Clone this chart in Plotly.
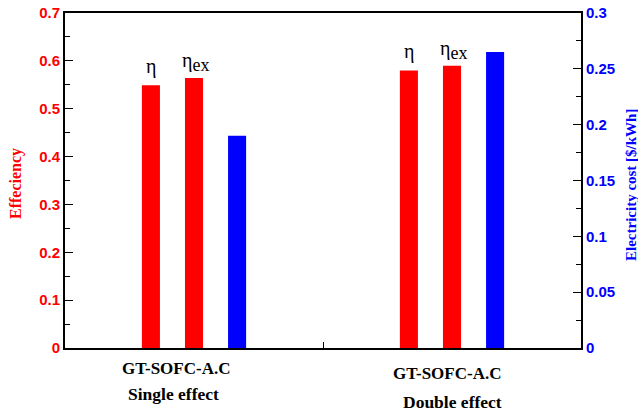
import plotly.graph_objects as go

groups = ["Single effect", "Double effect"]
group_x = [0.5, 1.5]
eta = [0.549, 0.58]
eta_ex = [0.564, 0.59]
cost = [0.19, 0.265]
y_ticks = [0, 0.1, 0.2, 0.3, 0.4, 0.5, 0.6, 0.7]
y_ticklabels = ["0", "0.1", "0.2", "0.3", "0.4", "0.5", "0.6", "0.7"]
y2_ticks = [0, 0.05, 0.1, 0.15, 0.2, 0.25, 0.3]
y2_ticklabels = ["0", "0.05", "0.1", "0.15", "0.2", "0.25", "0.3"]

RED = "#ff0000"
BLUE = "#0000ff"
bw = 0.07
step = 0.167

fig = go.Figure()
fig.add_trace(go.Bar(x=group_x, y=eta, width=bw, offset=-step - bw / 2,
                     marker=dict(color=RED, line=dict(width=0)), name="η"))
fig.add_trace(go.Bar(x=group_x, y=eta_ex, width=bw, offset=-bw / 2,
                     marker=dict(color=RED, line=dict(width=0)), name="ηex"))
fig.add_trace(go.Bar(x=group_x, y=cost, width=bw, offset=step - bw / 2,
                     marker=dict(color=BLUE, line=dict(width=0)), name="cost", yaxis="y2"))

serif = "Liberation Serif"
ann = []
for gx, e, ex in zip(group_x, eta, eta_ex):
    ann.append(dict(x=gx - step, y=e, xref="x", yref="y", text="η", showarrow=False,
                    xanchor="center", yanchor="bottom", yshift=5,
                    font=dict(family=serif, size=20, color="black")))
    ann.append(dict(x=gx + 0.005, y=ex, xref="x", yref="y",
                    text="η<sub><span style=\"font-size:18px\">ex</span></sub>", showarrow=False,
                    xanchor="center", yanchor="bottom", yshift=1,
                    font=dict(family=serif, size=20, color="black")))

# category labels (pixel positions of text centres)
lab_pos = [(0.43, 368, 0.42, 394), (1.48, 373, 1.5, 402)]
for g, (x1, y1, x2, y2) in zip(groups, lab_pos):
    ann.append(dict(x=x1, y=(414 - y1 - 66) / 335, xref="x", yref="paper", text="<b>GT-SOFC-A.C</b>",
                    showarrow=False, xanchor="center", yanchor="middle",
                    font=dict(family=serif, size=17, color="black")))
    ann.append(dict(x=x2, y=(414 - y2 - 66) / 335, xref="x", yref="paper", text="<b>%s</b>" % g,
                    showarrow=False, xanchor="center", yanchor="middle",
                    font=dict(family=serif, size=17.5, color="black")))

# axis titles
ann.append(dict(x=16, y=184, xref="paper", yref="paper", text="<b>Effeciency</b>", textangle=-90,
                showarrow=False, xanchor="center", yanchor="middle",
                font=dict(family=serif, size=16, color=RED)))
ann.append(dict(x=631, y=185, xref="paper", yref="paper", text="<b>Electricity cost [$/kWh]</b>",
                textangle=-90, showarrow=False, xanchor="center", yanchor="middle",
                font=dict(family=serif, size=15, color=BLUE)))
for a in ann[-2:]:
    a["x"] = (a["x"] - 65) / 516
    a["y"] = (414 - a["y"] - 66) / 335

fig.update_layout(
    width=638, height=414,
    margin=dict(l=65, r=57, t=13, b=66),
    plot_bgcolor="white", paper_bgcolor="white",
    showlegend=False,
    barmode="overlay",
    annotations=ann,
    xaxis=dict(range=[0, 2], tickvals=[1], showticklabels=False, ticks="inside", ticklen=6, tickwidth=1,
               tickcolor="black", showline=True, linecolor="black", linewidth=2, mirror=True,
               showgrid=False, zeroline=False, automargin=False),
    yaxis=dict(range=[0, 0.7], tickvals=y_ticks, ticktext=y_ticklabels, ticks="inside", ticklen=8,
               tickwidth=1, tickcolor="black", showline=True, linecolor="black", linewidth=2,
               showgrid=False, zeroline=False, automargin=False,
               tickfont=dict(family="Liberation Sans", size=15, color=RED, weight="bold"),
               minor=dict(dtick=0.05, ticks="inside", ticklen=5, tickcolor="black", tickwidth=1)),
    yaxis2=dict(range=[0, 0.3], tickvals=y2_ticks, ticktext=y2_ticklabels, overlaying="y", side="right",
                ticks="inside", ticklen=8, tickwidth=1, tickcolor="black", showline=True,
                linecolor="black", linewidth=2, showgrid=False, zeroline=False, automargin=False,
                tickfont=dict(family="Liberation Sans", size=15, color=BLUE, weight="bold"),
                minor=dict(dtick=0.025, ticks="inside", ticklen=5, tickcolor="black", tickwidth=1)),
)

fig.write_html("out.html", config={"displayModeBar": False},
               post_script="document.body.style.margin='0';document.body.style.overflow='hidden';")
